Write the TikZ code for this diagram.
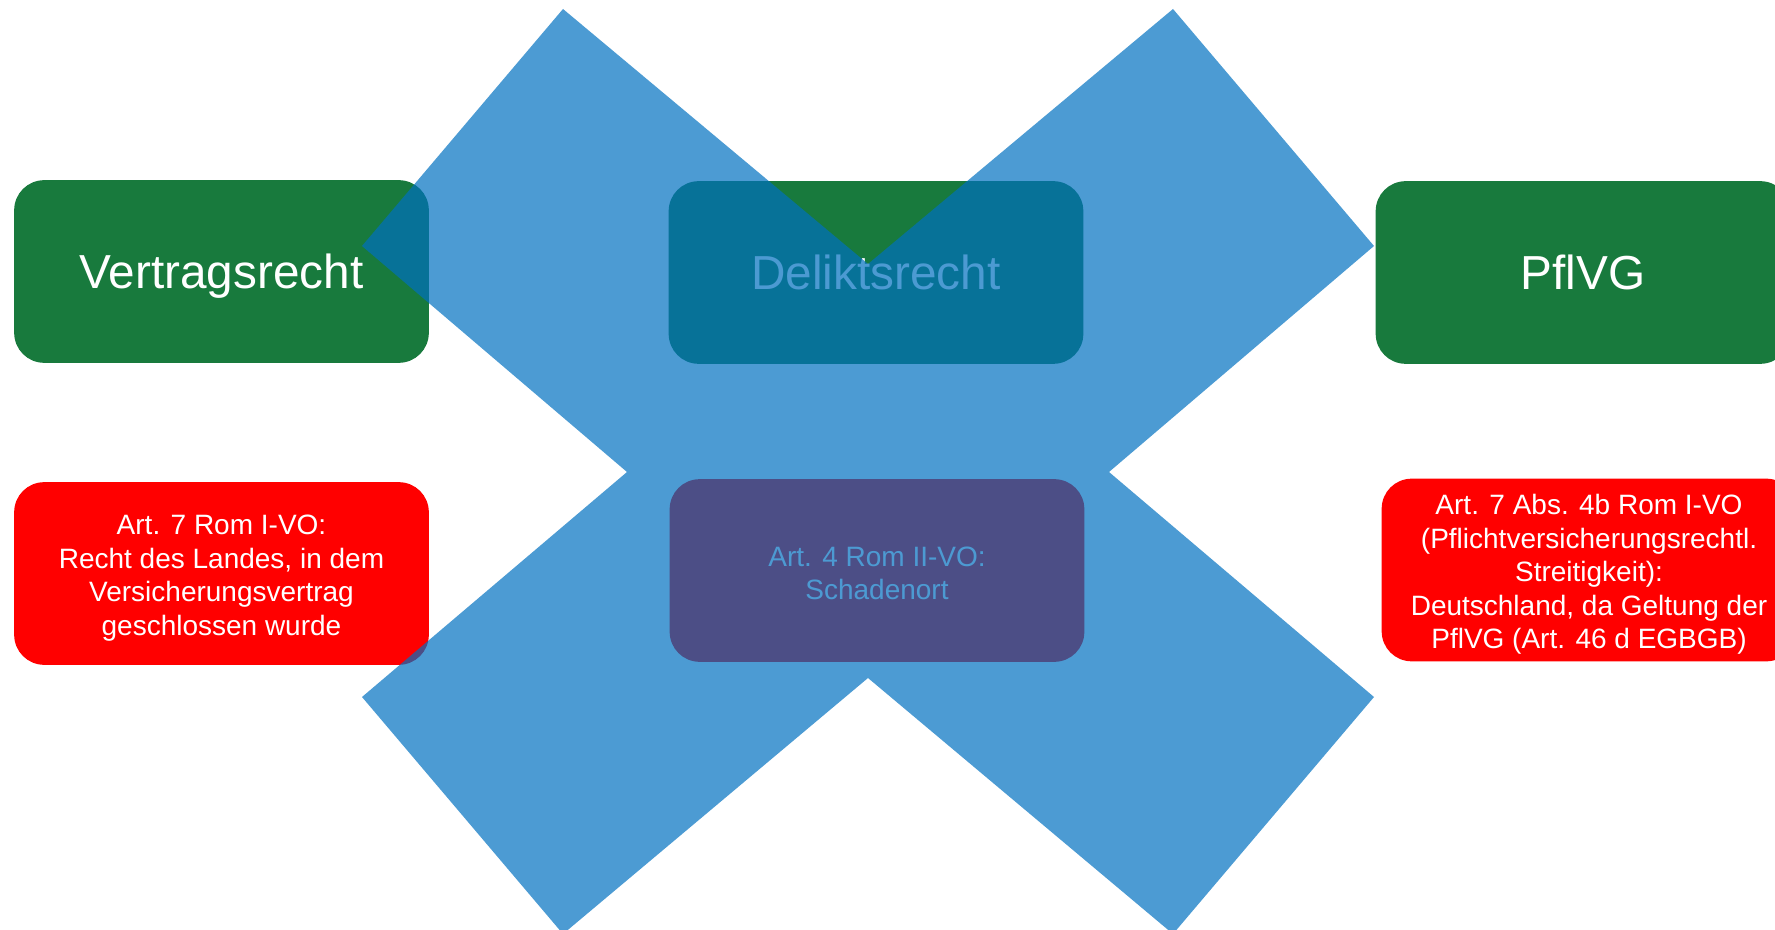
\documentclass[tikz,border=0pt]{standalone}
\usepackage{fontspec}
\setmainfont{Liberation Sans}
\definecolor{boxgreen}{RGB}{24,122,61}
\definecolor{boxred}{RGB}{255,0,0}
\definecolor{xblue}{RGB}{0,112,192}
\begin{document}
\begin{tikzpicture}[x=0.75pt,y=-0.75pt,
  box/.style={rectangle, rounded corners=22.5pt, minimum width=311pt, minimum height=137pt, inner sep=0pt, text=white, align=center},
  bigbox/.style={box, fill=boxgreen, font=\fontsize{35.8}{43}\selectfont, text height=25pt, text depth=0pt},
  smallbox/.style={box, fill=boxred, font=\fontsize{21}{25.1}\selectfont}]
\useasboundingbox (0,0) rectangle (1775,930);
\clip (0,0) rectangle (1775,930);
\node[bigbox] (vr) at (221.5,271.5) {Vertragsrecht};
\node[bigbox] (dr) at (876,272.5) {Deliktsrecht};
\node[bigbox] (pf) at (1583,272.5) {PflVG};
\node[smallbox] (r1) at (221.5,573.5) {};
\node[smallbox, fill=none] (t1) at (221.5,578) {Art. 7 Rom I-VO:\\Recht des Landes, in dem\\Versicherungsvertrag\\geschlossen wurde};
\node[smallbox] (r2) at (877,570.5) {};
\node[smallbox, fill=none] (t2) at (877,573.5) {Art. 4 Rom II-VO:\\Schadenort};
\node[smallbox] (r3) at (1589,570) {};
\node[smallbox, fill=none] (t3) at (1589,574.5) {Art. 7 Abs. 4b Rom I-VO\\(Pflichtversicherungsrechtl.\\Streitigkeit):\\Deutschland, da Geltung der\\PflVG (Art. 46 d EGBGB)};
\fill[xblue, fill opacity=0.7]
  (563,9) -- (868,264) -- (1173,9) -- (1374,246) -- (1109,472) -- (1374,697)
  -- (1173,934) -- (868,678) -- (563,934) -- (362,697) -- (627,472) -- (362,246) -- cycle;
\end{tikzpicture}
\end{document}
